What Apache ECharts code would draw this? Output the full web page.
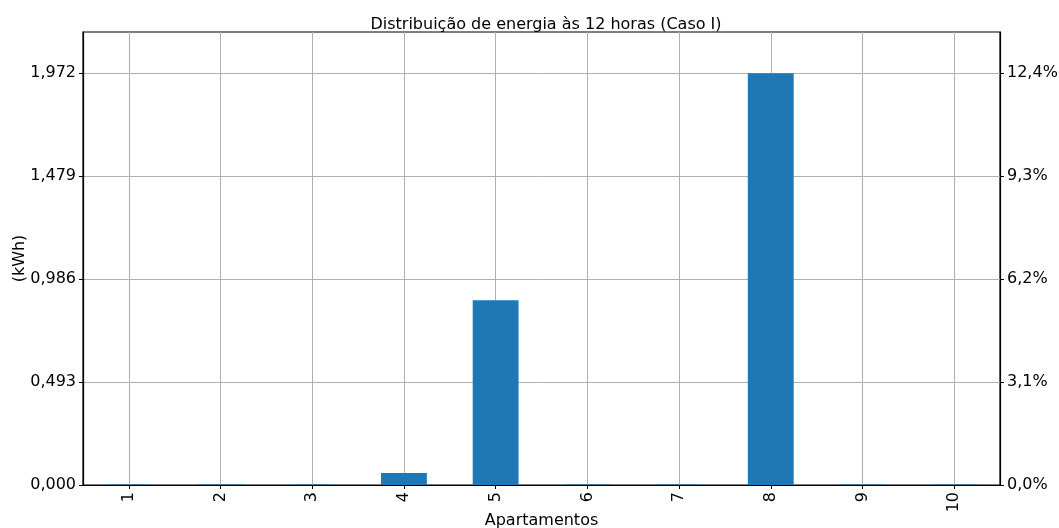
<!DOCTYPE html>
<html><head><meta charset="utf-8">
<script src="https://cdn.jsdelivr.net/npm/echarts@6/dist/echarts.min.js"></script>
<style>html,body{margin:0;padding:0;background:#fff}#c{width:1059px;height:528px}</style>
</head><body><div id="c"></div>
<script>
const categories = ['1','2','3','4','5','6','7','8','9','10'];
const energy = [0.002, 0.002, 0.002, 0.057, 0.885, 0.002, 0.002, 1.972, 0.002, 0.002];
const leftTicks = ['0,000','0,493','0,986','1,479','1,972'];
const rightTicks = ['0,0%','3,1%','6,2%','9,3%','12,4%'];
const tickStep = 0.493;
const yMax = 2.1692;

const font = 'DejaVu Sans';
const fs = 16;
const chart = echarts.init(document.getElementById('c'), null, {renderer:'canvas'});
function fmt(arr){ return function(v){ const i = Math.round(v / tickStep); return (Math.abs(v - i*tickStep) < 1e-6 && arr[i] !== undefined) ? arr[i] : ''; }; }
const yCommon = {
  type:'value', min:0, max:yMax, interval:tickStep,
  axisLine:{show:true, lineStyle:{color:'#000', width:1.2}},
  axisTick:{show:true, length:4, lineStyle:{color:'#000', width:1}},
};
chart.setOption({
  animation:false,
  title:{text:'Distribuição de energia às 12 horas (Caso I)', left:541, top:12, textAlign:'center',
    textStyle:{fontFamily:font, fontSize:fs, fontWeight:'normal', color:'#000'}},
  grid:{left:83, right:59, top:32, bottom:43, outerBoundsMode:'none', containLabel:false,
    show:true, borderColor:'#000', borderWidth:1.2, backgroundColor:'transparent'},
  xAxis:[{
    type:'category', data:categories, position:'bottom',
    name:'Apartamentos', nameLocation:'middle', nameGap:28, nameMoveOverlap:false,
    nameTextStyle:{fontFamily:font, fontSize:fs, color:'#000', verticalAlign:'top'},
    axisLine:{show:true, lineStyle:{color:'#000', width:1.2}},
    axisTick:{show:true, alignWithLabel:true, length:4, lineStyle:{color:'#000'}},
    axisLabel:{rotate:90, fontFamily:font, fontSize:fs, color:'#000', margin:7, interval:0},
    splitLine:{show:true, alignWithLabel:true, lineStyle:{color:'#b0b0b0', width:1}}
  }],
  yAxis:[Object.assign({}, yCommon, {
    position:'left',
    name:'(kWh)', nameLocation:'middle', nameGap:55, nameRotate:90, nameMoveOverlap:false,
    nameTextStyle:{fontFamily:font, fontSize:fs, color:'#000', verticalAlign:'bottom'},
    axisLabel:{fontFamily:font, fontSize:fs, color:'#000', margin:7, formatter:fmt(leftTicks), showMaxLabel:false},
    splitLine:{show:true, showMaxLine:false, lineStyle:{color:'#b0b0b0', width:1}}
  }), Object.assign({}, yCommon, {
    position:'right',
    axisLabel:{fontFamily:font, fontSize:fs, color:'#000', margin:7, formatter:fmt(rightTicks), showMaxLabel:false},
    splitLine:{show:false}
  })],
  series:[{
    type:'bar', data:energy, barWidth:'50%', xAxisIndex:0, yAxisIndex:0,
    itemStyle:{color:'#1f77b4'}, z:3
  }]
});
</script></body></html>
